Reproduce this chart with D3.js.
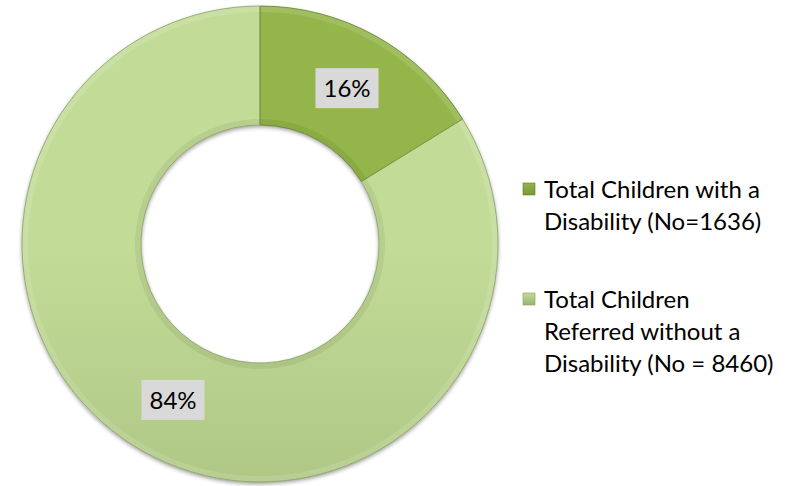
<!DOCTYPE html>
<html>
<head>
<meta charset="utf-8">
<script src="https://cdn.jsdelivr.net/npm/d3@7"></script>
<style>
  html, body { margin: 0; padding: 0; background: #ffffff; }
  svg { display: block; }
  text { font-family: Lato, "Open Sans", sans-serif; }
</style>
</head>
<body>
<svg id="chart" width="790" height="486"></svg>
<script>
// Referral breakdown
const categories = [
  "Total Children with a Disability (No=1636)",
  "Total Children Referred without a Disability (No = 8460)"
];
const legendLines = [
  ["Total Children with a", "Disability (No=1636)"],
  ["Total Children", "Referred without a", "Disability (No = 8460)"]
];
const counts = [1636, 8460];
const percentLabels = ["16%", "84%"];

// slice fills: [top, bottom] of each gradient
const fills = [
  ["#93b54a", "#799935"],
  ["#c2db97", "#9bb373"]
];
const edges = ["#5f7d25", "#86a05e"];

const svg = d3.select("#chart");
const cx = 260, cy = 244, outerR = 238, innerR = 119;

const defs = svg.append("defs");

fills.forEach((f, i) => {
  const g = defs.append("linearGradient")
    .attr("id", "grad" + i)
    .attr("gradientUnits", "userSpaceOnUse")
    .attr("x1", 0).attr("y1", cy - outerR)
    .attr("x2", 0).attr("y2", cy + outerR);
  g.append("stop").attr("offset", "0%").attr("stop-color", f[0]);
  g.append("stop").attr("offset", "100%").attr("stop-color", f[1]);

  const lg = defs.append("linearGradient")
    .attr("id", "leg" + i)
    .attr("x1", 0).attr("y1", 0).attr("x2", 0).attr("y2", 1);
  lg.append("stop").attr("offset", "0%").attr("stop-color", f[0]);
  lg.append("stop").attr("offset", "100%").attr("stop-color", f[1]);
});

// soft drop shadow under the ring
const flt = defs.append("filter").attr("id", "shade")
  .attr("x", "-10%").attr("y", "-10%").attr("width", "120%").attr("height", "120%");
flt.append("feGaussianBlur").attr("in", "SourceAlpha").attr("stdDeviation", 2).attr("result", "blur");
flt.append("feOffset").attr("in", "blur").attr("dx", 0).attr("dy", 2).attr("result", "off");
flt.append("feComponentTransfer").attr("in", "off").attr("result", "shadow")
  .append("feFuncA").attr("type", "linear").attr("slope", 0.4);
const merge = flt.append("feMerge");
merge.append("feMergeNode").attr("in", "shadow");
merge.append("feMergeNode").attr("in", "SourceGraphic");

const pie = d3.pie().sort(null).value(d => d);
const arcs = pie(counts);
const arc = d3.arc().innerRadius(innerR).outerRadius(outerR);
// narrow rims along the edges give a slight bevelled look
const rimOuter = d3.arc().innerRadius(outerR - 6).outerRadius(outerR);
const rimInner = d3.arc().innerRadius(innerR).outerRadius(innerR + 6);

const g = svg.append("g").attr("transform", `translate(${cx},${cy})`);

const ring = g.append("g").attr("filter", "url(#shade)");
ring.selectAll("path.slice")
  .data(arcs)
  .join("path")
  .attr("class", "slice")
  .attr("d", arc)
  .attr("fill", (d, i) => `url(#grad${i})`);

g.selectAll("path.rimo")
  .data(arcs)
  .join("path")
  .attr("class", "rimo")
  .attr("d", rimOuter)
  .attr("fill", "#ffffff")
  .attr("fill-opacity", 0.12);

g.selectAll("path.rimi")
  .data(arcs)
  .join("path")
  .attr("class", "rimi")
  .attr("d", rimInner)
  .attr("fill", "#000000")
  .attr("fill-opacity", 0.06);

g.selectAll("path.edge")
  .data(arcs)
  .join("path")
  .attr("class", "edge")
  .attr("d", arc)
  .attr("fill", "none")
  .attr("stroke", (d, i) => edges[i])
  .attr("stroke-width", 0.8);

// percentage labels at slice centroids
const labelG = g.selectAll("g.lbl")
  .data(arcs)
  .join("g")
  .attr("class", "lbl")
  .attr("transform", d => `translate(${arc.centroid(d)})`);
labelG.append("rect")
  .attr("x", -31.5).attr("y", -20)
  .attr("width", 63).attr("height", 40)
  .attr("fill", "#d9d9d9");
labelG.append("text")
  .attr("text-anchor", "middle")
  .attr("dy", "0.36em")
  .attr("font-size", 24)
  .attr("fill", "#000")
  .text((d, i) => percentLabels[i]);

// legend
const legendX = 523;
const legendTops = [190, 300];
const lineH = 32;
legendLines.forEach((lines, i) => {
  const lg = svg.append("g").attr("transform", `translate(${legendX},${legendTops[i]})`);
  lg.append("rect")
    .attr("x", 0).attr("y", -7).attr("width", 12).attr("height", 12)
    .attr("fill", `url(#leg${i})`)
    .attr("stroke", edges[i]).attr("stroke-width", 0.6);
  lg.append("text")
    .attr("font-size", 24)
    .attr("fill", "#000")
    .selectAll("tspan")
    .data(lines)
    .join("tspan")
    .attr("x", 21)
    .attr("y", (d, j) => j * lineH)
    .attr("dy", "0.35em")
    .text(d => d);
});
</script>
</body>
</html>
